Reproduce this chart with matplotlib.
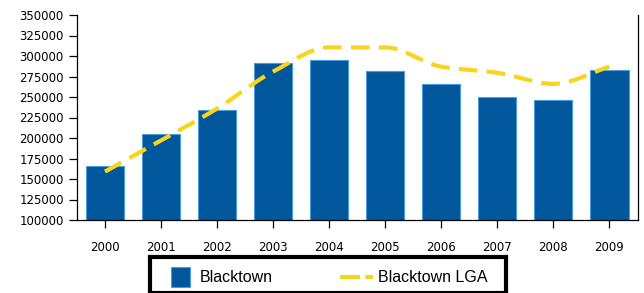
import numpy as np
import matplotlib.pyplot as plt
from matplotlib.patches import Rectangle
from matplotlib.lines import Line2D

plt.rcParams['font.family'] = ['DejaVu Sans']

years = ['2000', '2001', '2002', '2003', '2004', '2005', '2006', '2007', '2008', '2009']
blacktown = [166000, 205000, 234000, 291500, 295000, 281300, 266000, 250300, 246700, 283000]
blacktown_lga = [159000, 197000, 236000, 281000, 310500, 310500, 287000, 279500, 266000, 287000]
yticks = [100000, 125000, 150000, 175000, 200000, 225000, 250000, 275000, 300000, 325000, 350000]

BLUE = '#00579c'
EDGE = '#4a9de0'
YELLOW = '#f8d51c'


def smooth(xs, ys, n=30):
    # monotone cubic curve through the points (Fritsch-Carlson slopes)
    xs = np.asarray(xs, float)
    ys = np.asarray(ys, float)
    d = np.diff(ys) / np.diff(xs)
    m = np.zeros_like(ys)
    m[0], m[-1] = d[0], d[-1]
    for i in range(1, len(ys) - 1):
        if d[i - 1] * d[i] <= 0:
            m[i] = 0
        else:
            m[i] = 2 / (1 / d[i - 1] + 1 / d[i])
    out_x, out_y = [], []
    for i in range(len(xs) - 1):
        h = xs[i + 1] - xs[i]
        t = np.linspace(0, 1, n, endpoint=False)
        h00 = 2 * t**3 - 3 * t**2 + 1
        h10 = t**3 - 2 * t**2 + t
        h01 = -2 * t**3 + 3 * t**2
        h11 = t**3 - t**2
        out_x.extend(xs[i] + t * h)
        out_y.extend(h00 * ys[i] + h10 * h * m[i] + h01 * ys[i + 1] + h11 * h * m[i + 1])
    out_x.append(xs[-1])
    out_y.append(ys[-1])
    return out_x, out_y


fig = plt.figure(figsize=(6.44, 2.93), dpi=100)
ax = fig.add_axes([77 / 644, 1 - 220 / 293, (637.5 - 77) / 644, 205 / 293])

x = np.arange(len(years))
ax.bar(x, blacktown, width=0.68, color=BLUE, edgecolor=EDGE, linewidth=0.8, zorder=2)
sx, sy = smooth(x, blacktown_lga)
ax.plot(sx, sy, color=YELLOW, linewidth=3, dashes=(4.5, 2.2), zorder=3)

ax.set_ylim(100000, 350000)
ax.set_xlim(-0.5, 9.5)
ax.set_yticks(yticks)
ax.set_yticklabels([str(v) for v in yticks], fontsize=8.5)
ax.set_xticks(x)
ax.set_xticklabels(years, fontsize=8.5)
ax.tick_params(axis='y', length=6, width=0.9, pad=3.5)
ax.tick_params(axis='x', length=6, width=0.9, pad=9)
ax.spines['top'].set_visible(False)
for s in ['left', 'bottom', 'right']:
    ax.spines[s].set_linewidth(0.9)

# legend box under the chart
lax = fig.add_axes([150 / 644, 0, (506 - 150) / 644, 36 / 293])
lax.set_xlim(150, 506)
lax.set_ylim(293, 257)
lax.set_xticks([])
lax.set_yticks([])
for s in lax.spines.values():
    s.set_linewidth(3)
    s.set_color('black')
lax.add_patch(Rectangle((171, 267), 19, 20, facecolor=BLUE, edgecolor=EDGE, linewidth=0.8))
lax.text(200, 277, 'Blacktown', fontsize=11.5, family='Liberation Sans', va='center', ha='left')
lax.add_line(Line2D([340, 373], [277, 277], color=YELLOW, linewidth=3, dashes=(4.8, 1.3)))
lax.text(378, 277, 'Blacktown LGA', fontsize=11.5, family='Liberation Sans', va='center', ha='left')

fig.savefig('out.png', dpi=100)
